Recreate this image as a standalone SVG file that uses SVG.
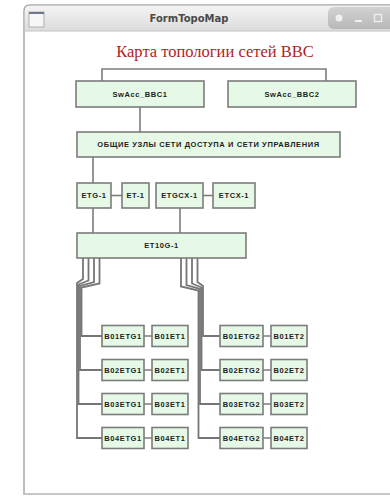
<svg xmlns="http://www.w3.org/2000/svg" width="390" height="496" viewBox="0 0 390 496">
<defs>
<linearGradient id="tb" x1="0" y1="0" x2="0" y2="1"><stop offset="0" stop-color="#f4f4f4"/><stop offset="1" stop-color="#dcdcdc"/></linearGradient>
<linearGradient id="bt" x1="0" y1="0" x2="0" y2="1"><stop offset="0" stop-color="#d2d2d2"/><stop offset="1" stop-color="#b8b8b8"/></linearGradient>
<style>
.box{fill:#e6f9e6;stroke:#7c7c7c;stroke-width:1.6}
.lbl{font-family:"Liberation Sans",Arial,sans-serif;font-weight:bold;font-size:7.5px;letter-spacing:0.6px;fill:#222;text-anchor:middle;dominant-baseline:central}
.ln{fill:none;stroke:#7c7c7c;stroke-width:1.6}
.bus{fill:none;stroke:#767676;stroke-width:1.8;stroke-linejoin:miter}
</style>
</defs>
<rect width="390" height="496" fill="#ffffff"/>
<g id="window">
<path d="M24,494 V11 Q24,5 30,5 H392 V494 Z" fill="#ffffff" stroke="#a8a8a8" stroke-width="1.5"/>
<path d="M24.8,31 V11 Q24.8,5.8 30,5.8 H392 V31 Z" fill="url(#tb)"/>
<line x1="24" y1="31" x2="390" y2="31" stroke="#c4c4c4" stroke-width="1"/>
<path d="M334,7 H392 V29 H334 Q328,29 328,23 V13 Q328,7 334,7 Z" fill="url(#bt)"/>
<rect x="29" y="12" width="15" height="15" fill="#f6f6f6" stroke="#a0a0a0" stroke-width="0.8"/>
<rect x="29" y="12" width="15" height="2" fill="#6a7890"/>
<text x="189" y="22" font-family="DejaVu Sans,sans-serif" font-weight="bold" font-size="10" fill="#4a4a4a" text-anchor="middle">FormTopoMap</text>
<circle cx="339" cy="18" r="3.5" fill="#f0f0f0"/>
<rect x="355" y="20" width="7" height="2" fill="#f0f0f0"/>
<rect x="374.5" y="14.5" width="7" height="7" fill="none" stroke="#f0f0f0" stroke-width="1.3"/>
<line x1="24" y1="494" x2="390" y2="494" stroke="#d0d0d0" stroke-width="1"/>
</g>
<text id="title" x="215" y="57" font-family="Liberation Serif,'Times New Roman',serif" font-size="16.5" fill="#b01e1e" text-anchor="middle">Карта топологии сетей ВВС</text>
<g id="connectors">
<path class="ln" d="M102,82 V69 H326 V82"/>
<path class="ln" d="M140,107 V132"/>
<path class="ln" d="M93,157 V183"/>
<path class="ln" d="M111,195.5 H122"/>
<path class="ln" d="M203,195.5 H213"/>
<path class="ln" d="M93,208 V233"/>
<path class="ln" d="M180,208 V233"/>
<path class="bus" d="M83,258 V279 L77,283 V438 H102"/>
<path class="bus" d="M88.5,258 V280.5 L78.5,284.5 V404 H102"/>
<path class="bus" d="M94,258 V282 L80,286 V370 H102"/>
<path class="bus" d="M99.5,258 V283.5 L81.5,287.5 V336 H102"/>
<path class="bus" d="M197.5,258 V282 L203,286 V336 H220"/>
<path class="bus" d="M192,258 V283.5 L201.5,287.5 V370 H220"/>
<path class="bus" d="M186.5,258 V285 L200,289 V404 H220"/>
<path class="bus" d="M181,258 V286.5 L198.5,290.5 V438 H220"/>
<path class="ln" d="M144,336 H152 M144,370 H152 M144,404 H152 M144,438 H152"/>
<path class="ln" d="M263,336 H271 M263,370 H271 M263,404 H271 M263,438 H271"/>
</g>
<g id="SwAcc_BBC1"><rect class="box" x="76" y="81" width="128" height="26"/><text class="lbl" x="140" y="94">SwAcc_BBC1</text></g>
<g id="SwAcc_BBC2"><rect class="box" x="228" y="81" width="128" height="26"/><text class="lbl" x="292" y="94">SwAcc_BBC2</text></g>
<g id="common"><rect class="box" x="77" y="132" width="263" height="25"/><text class="lbl" x="208.5" y="144.5" letter-spacing="0.9">ОБЩИЕ УЗЛЫ СЕТИ ДОСТУПА И СЕТИ УПРАВЛЕНИЯ</text></g>
<g id="ETG-1"><rect class="box" x="77" y="183" width="34" height="25"/><text class="lbl" x="94" y="195.5">ETG-1</text></g>
<g id="ET-1"><rect class="box" x="122" y="183" width="27" height="25"/><text class="lbl" x="135.5" y="195.5">ET-1</text></g>
<g id="ETGCX-1"><rect class="box" x="156" y="183" width="47" height="25"/><text class="lbl" x="179.5" y="195.5">ETGCX-1</text></g>
<g id="ETCX-1"><rect class="box" x="213" y="183" width="42" height="25"/><text class="lbl" x="234" y="195.5">ETCX-1</text></g>
<g id="ET10G-1"><rect class="box" x="77" y="233" width="169" height="25"/><text class="lbl" x="161.5" y="245.5">ET10G-1</text></g>
<g id="B01ETG1"><rect class="box" x="102" y="325.5" width="42" height="21"/><text class="lbl" x="123" y="336" letter-spacing="0.3">B01ETG1</text></g>
<g id="B01ET1"><rect class="box" x="152" y="325.5" width="36" height="21"/><text class="lbl" x="170" y="336" letter-spacing="0.3">B01ET1</text></g>
<g id="B02ETG1"><rect class="box" x="102" y="359.5" width="42" height="21"/><text class="lbl" x="123" y="370" letter-spacing="0.3">B02ETG1</text></g>
<g id="B02ET1"><rect class="box" x="152" y="359.5" width="36" height="21"/><text class="lbl" x="170" y="370" letter-spacing="0.3">B02ET1</text></g>
<g id="B03ETG1"><rect class="box" x="102" y="393.5" width="42" height="21"/><text class="lbl" x="123" y="404" letter-spacing="0.3">B03ETG1</text></g>
<g id="B03ET1"><rect class="box" x="152" y="393.5" width="36" height="21"/><text class="lbl" x="170" y="404" letter-spacing="0.3">B03ET1</text></g>
<g id="B04ETG1"><rect class="box" x="102" y="427.5" width="42" height="21"/><text class="lbl" x="123" y="438" letter-spacing="0.3">B04ETG1</text></g>
<g id="B04ET1"><rect class="box" x="152" y="427.5" width="36" height="21"/><text class="lbl" x="170" y="438" letter-spacing="0.3">B04ET1</text></g>
<g id="B01ETG2"><rect class="box" x="220" y="325.5" width="43" height="21"/><text class="lbl" x="241.5" y="336" letter-spacing="0.3">B01ETG2</text></g>
<g id="B01ET2"><rect class="box" x="271" y="325.5" width="36" height="21"/><text class="lbl" x="289" y="336" letter-spacing="0.3">B01ET2</text></g>
<g id="B02ETG2"><rect class="box" x="220" y="359.5" width="43" height="21"/><text class="lbl" x="241.5" y="370" letter-spacing="0.3">B02ETG2</text></g>
<g id="B02ET2"><rect class="box" x="271" y="359.5" width="36" height="21"/><text class="lbl" x="289" y="370" letter-spacing="0.3">B02ET2</text></g>
<g id="B03ETG2"><rect class="box" x="220" y="393.5" width="43" height="21"/><text class="lbl" x="241.5" y="404" letter-spacing="0.3">B03ETG2</text></g>
<g id="B03ET2"><rect class="box" x="271" y="393.5" width="36" height="21"/><text class="lbl" x="289" y="404" letter-spacing="0.3">B03ET2</text></g>
<g id="B04ETG2"><rect class="box" x="220" y="427.5" width="43" height="21"/><text class="lbl" x="241.5" y="438" letter-spacing="0.3">B04ETG2</text></g>
<g id="B04ET2"><rect class="box" x="271" y="427.5" width="36" height="21"/><text class="lbl" x="289" y="438" letter-spacing="0.3">B04ET2</text></g>
</svg>
